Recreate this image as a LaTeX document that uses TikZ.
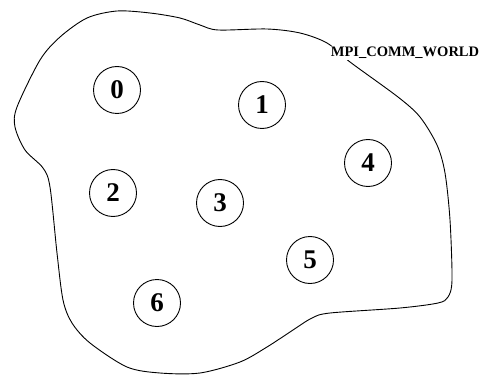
\documentclass[tikz,border=0pt]{standalone}
\usepackage{fontspec}
\setmainfont{Liberation Serif}
\begin{document}
\begin{tikzpicture}[x=1pt,y=1pt,
  proc/.style={circle,draw,line width=0.9pt,minimum size=47pt,inner sep=0pt,font=\fontsize{27}{30}\selectfont\bfseries},
  lbl/.style={fill=white,inner sep=1pt,font=\fontsize{14.5}{16}\selectfont\bfseries}]
\useasboundingbox (0,0) rectangle (486,375);
\draw[line width=0.9pt] plot[smooth cycle,tension=0.5] coordinates {
 (117,364) (150,362) (180,357) (200,350) (218,345) (267,346) (300,342) (327,332)
 (350,313) (398,278) (420,258) (437,230) (445,202) (450,155) (452,95) (448,78) (438,72)
 (400,67) (330,62) (312,57) (293,45) (267,28) (240,13) (200,2) (160,2) (127,8) (90,32) (72,52)
 (63,75) (57,122) (50,188) (43,207) (25,225) (15,248) (17,268) (40,315) (60,338) (87,357)};
\node[lbl] (world) at (405,322) {MPI\_COMM\_WORLD};
\node[proc] (p0) at (117,285) {0};
\node[proc] (p1) at (262,270) {1};
\node[proc] (p2) at (113,182) {2};
\node[proc] (p3) at (220,172) {3};
\node[proc] (p4) at (368,212) {4};
\node[proc] (p5) at (310,115) {5};
\node[proc] (p6) at (157,72) {6};
\end{tikzpicture}
\end{document}
